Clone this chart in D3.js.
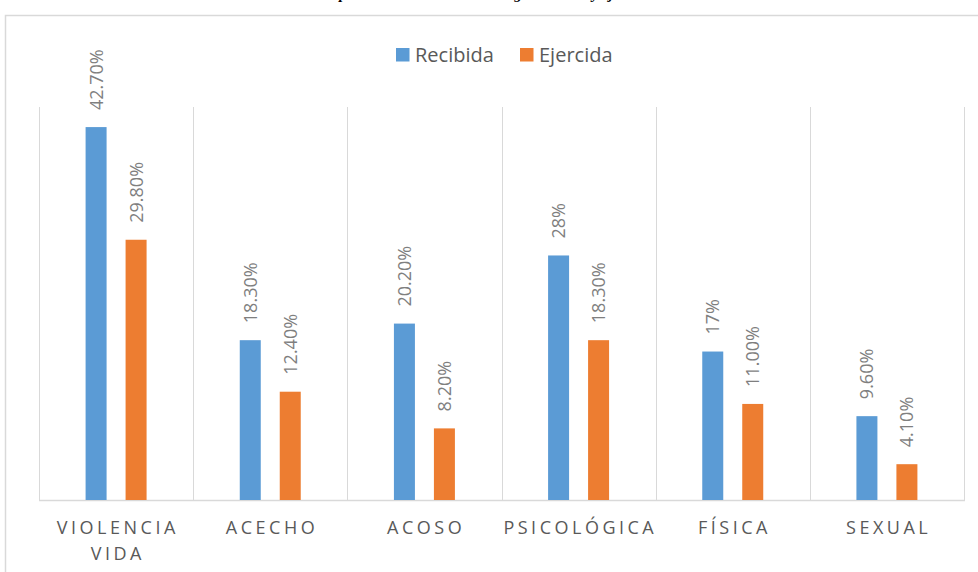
<!DOCTYPE html>
<html><head><meta charset="utf-8">
<script src="https://cdn.jsdelivr.net/npm/d3@7"></script>
<style>
body{margin:0;background:#fff;}
svg{display:block;}
</style></head>
<body>
<svg id="chart" width="978" height="572"></svg>
<script>
const categories = [["VIOLENCIA","VIDA"],["ACECHO"],["ACOSO"],["PSICOLÓGICA"],["FÍSICA"],["SEXUAL"]];
const seriesNames = ["Recibida","Ejercida"];
const recibida = [42.7, 18.3, 20.2, 28, 17, 9.6];
const ejercida = [29.8, 12.4, 8.2, 18.3, 11.0, 4.1];
const recibidaLabels = ["42.70%","18.30%","20.20%","28%","17%","9.60%"];
const ejercidaLabels = ["29.80%","12.40%","8.20%","18.30%","11.00%","4.10%"];
const colors = ["#5B9BD5","#ED7D31"];
const yMax = 45;

(function(){
const svg = d3.select("#chart");
const font = "'Open Sans', 'Noto Sans', sans-serif";

// partial title at top (cut off)
svg.append("text").attr("x", 489).attr("y", -1).attr("text-anchor","middle")
  .attr("font-family","'Liberation Serif', serif").attr("font-style","italic").attr("font-weight","bold")
  .attr("font-size",15).attr("fill","#000")
  .text("Tipos de violencia en el noviazgo: recibida y ejercida");

// chart frame
svg.append("rect").attr("x",5.5).attr("y",15.5).attr("width",1000).attr("height",600)
  .attr("fill","none").attr("stroke","#d9d9d9").attr("stroke-width",1.5);

const pLeft = 39, pRight = 964, pTop = 107, pBottom = 500;
const x = d3.scaleBand().domain(d3.range(categories.length)).range([pLeft,pRight]).padding(0);
const y = d3.scaleLinear().domain([0,yMax]).range([pBottom,pTop]);
const xs = d3.scaleBand().domain([0,1]).range([0,x.bandwidth()]).paddingInner(0.475).paddingOuter(1.165);

// vertical gridlines at category boundaries
const bounds = d3.range(categories.length+1).map(i => i < categories.length ? x(i) : pRight);
svg.append("g").selectAll("line").data(bounds).join("line")
  .attr("x1",d=>Math.round(d)+0.5).attr("x2",d=>Math.round(d)+0.5)
  .attr("y1",pTop).attr("y2",pBottom)
  .attr("stroke","#d9d9d9").attr("stroke-width",1);

// baseline
svg.append("line").attr("x1",pLeft).attr("x2",pRight+1).attr("y1",pBottom+0.5).attr("y2",pBottom+0.5)
  .attr("stroke","#d9d9d9").attr("stroke-width",1.5);

const series = [recibida, ejercida];
const labels = [recibidaLabels, ejercidaLabels];
series.forEach((vals, s) => {
  const g = svg.append("g");
  g.selectAll("rect").data(vals).join("rect")
    .attr("x",(d,i)=>x(i)+xs(s)).attr("width",xs.bandwidth())
    .attr("y",d=>y(d)).attr("height",d=>pBottom-y(d))
    .attr("fill",colors[s]);
  g.selectAll("text").data(vals).join("text")
    .attr("transform",(d,i)=>`translate(${x(i)+xs(s)+xs.bandwidth()/2+6.5},${y(d)-17}) rotate(-90)`)
    .attr("font-family",font).attr("font-size",18).attr("fill","#7f7f7f")
    .text((d,i)=>labels[s][i]);
});

// category labels
const catG = svg.append("g");
categories.forEach((lines,i)=>{
  lines.forEach((ln,j)=>{
    catG.append("text").attr("x",x(i)+x.bandwidth()/2+1.75).attr("y",534+j*26)
      .attr("text-anchor","middle").attr("font-family",font).attr("font-size",18)
      .attr("letter-spacing","3.5px").attr("fill","#595959").text(ln);
  });
});

// legend
const legend = svg.append("g");
const legX = [396, 520];
seriesNames.forEach((n,s)=>{
  legend.append("rect").attr("x",legX[s]).attr("y",48).attr("width",13.5).attr("height",13.5).attr("fill",colors[s]);
  legend.append("text").attr("x",legX[s]+19).attr("y",62).attr("font-family",font).attr("font-size",20)
    .attr("fill","#595959").text(n);
});
})();
</script>
</body></html>
